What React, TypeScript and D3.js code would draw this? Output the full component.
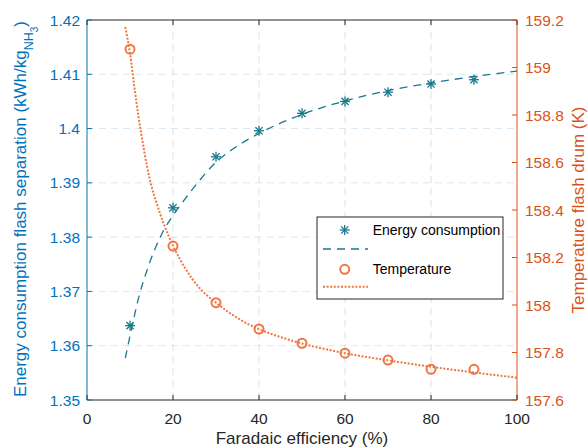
import React from "react";
import * as d3 from "d3";

// Measured points (Faradaic efficiency in %)
const efficiency = [10, 20, 30, 40, 50, 60, 70, 80, 90];
const energy = [1.3637, 1.3854, 1.3948, 1.3996, 1.4028, 1.405, 1.4067, 1.4082, 1.409];
const temperature = [159.077, 158.248, 158.01, 157.899, 157.839, 157.797, 157.768, 157.729, 157.729];

// Fitted trend curves
const energyFitX = [8.9, 10, 12, 14, 16, 18, 20, 22, 25, 30, 35, 40, 50, 60, 70, 80, 90, 100];
const energyFitY = [1.3577, 1.3618, 1.3688, 1.374, 1.3782, 1.3815, 1.384, 1.3862, 1.3893, 1.3938, 1.3968, 1.3991, 1.4026, 1.4051, 1.407, 1.4084, 1.4096, 1.4106];
const tempFitX = [8.9, 10, 11, 12, 13, 14, 15, 16, 18, 20, 23, 26, 30, 35, 40, 45, 50, 60, 70, 80, 90, 100];
const tempFitY = [159.17, 159.06, 158.92, 158.79, 158.68, 158.58, 158.5, 158.44, 158.335, 158.25, 158.15, 158.075, 158.01, 157.945, 157.898, 157.865, 157.838, 157.797, 157.767, 157.74, 157.716, 157.694];

// Axis ticks
const xTicks = [0, 20, 40, 60, 80, 100];
const leftTicks = [1.35, 1.36, 1.37, 1.38, 1.39, 1.4, 1.41, 1.42];
const rightTicks = [157.6, 157.8, 158, 158.2, 158.4, 158.6, 158.8, 159, 159.2];

const W = 588;
const H = 448;
const M = { left: 87, right: 517, top: 20, bottom: 400 };

const BLUE = "#0072BD";
const ORANGE = "#D95319";
const TEAL = "#17798B";
const CORAL = "#EE7743";
const DARK = "#262626";
const FONT = "'Liberation Sans', Arial, Helvetica, sans-serif";

function Star({ cx, cy, r = 5 }: { cx: number; cy: number; r?: number }) {
  const d = r * 0.72;
  return (
    <g stroke={TEAL} strokeWidth={1.3} fill="none">
      <line x1={cx - r} y1={cy} x2={cx + r} y2={cy} />
      <line x1={cx} y1={cy - r} x2={cx} y2={cy + r} />
      <line x1={cx - d} y1={cy - d} x2={cx + d} y2={cy + d} />
      <line x1={cx - d} y1={cy + d} x2={cx + d} y2={cy - d} />
    </g>
  );
}

export default function App() {
  const x = d3.scaleLinear().domain([0, 100]).range([M.left, M.right]);
  const yL = d3.scaleLinear().domain([1.35, 1.42]).range([M.bottom, M.top]);
  const yR = d3.scaleLinear().domain([157.6, 159.2]).range([M.bottom, M.top]);

  const energyLine = d3
    .line<number>()
    .x((_, i) => x(energyFitX[i]))
    .y((v) => yL(v))
    .curve(d3.curveMonotoneX)(energyFitY) as string;
  const tempLine = d3
    .line<number>()
    .x((_, i) => x(tempFitX[i]))
    .y((v) => yR(v))
    .curve(d3.curveMonotoneX)(tempFitY) as string;

  const tick = 5;
  const fmtL = (v: number) => String(+v.toFixed(2));
  const fmtR = (v: number) => String(+v.toFixed(1));

  const lg = { x: 317, y: 217, w: 186, h: 82 };

  return (
    <svg
      width={W}
      height={H}
      style={{ position: "absolute", left: 0, top: 0, background: "#fff" }}
      fontFamily={FONT}
    >
      <rect x={0} y={0} width={W} height={H} fill="#fff" />
      {/* grid */}
      {xTicks.slice(1, -1).map((t) => (
        <line key={"gx" + t} x1={x(t)} x2={x(t)} y1={M.top} y2={M.bottom} stroke="#DEDEDE" strokeWidth={1} strokeDasharray="7 5" />
      ))}
      {leftTicks.slice(1, -1).map((t) => (
        <line key={"gy" + t} x1={M.left} x2={M.right} y1={yL(t)} y2={yL(t)} stroke="#D6E8F5" strokeWidth={1} strokeDasharray="7 5" />
      ))}

      {/* fitted curves */}
      <path d={energyLine} fill="none" stroke={TEAL} strokeWidth={1.3} strokeDasharray="8 6" />
      <path d={tempLine} fill="none" stroke={CORAL} strokeWidth={2} strokeDasharray="2 1.6" />

      {/* markers */}
      {efficiency.map((e, i) => (
        <Star key={"s" + e} cx={x(e)} cy={yL(energy[i])} />
      ))}
      {efficiency.map((e, i) => (
        <circle key={"c" + e} cx={x(e)} cy={yR(temperature[i])} r={4.5} fill="none" stroke={CORAL} strokeWidth={2} />
      ))}

      {/* frame */}
      <line x1={M.left} x2={M.right} y1={M.top} y2={M.top} stroke={DARK} strokeWidth={1} />
      <line x1={M.left} x2={M.right} y1={M.bottom} y2={M.bottom} stroke={DARK} strokeWidth={1} />
      <line x1={M.left} x2={M.left} y1={M.top} y2={M.bottom} stroke={BLUE} strokeWidth={1} />
      <line x1={M.right} x2={M.right} y1={M.top} y2={M.bottom} stroke={ORANGE} strokeWidth={1} />

      {/* x axis */}
      {xTicks.map((t) => (
        <g key={"xt" + t}>
          <line x1={x(t)} x2={x(t)} y1={M.bottom} y2={M.bottom - tick} stroke={DARK} />
          <line x1={x(t)} x2={x(t)} y1={M.top} y2={M.top + tick} stroke={DARK} />
          <text x={x(t)} y={424} textAnchor="middle" fontSize={15.5} fill={DARK}>
            {t}
          </text>
        </g>
      ))}
      <text x={(M.left + M.right) / 2} y={444} textAnchor="middle" fontSize={17} fill={DARK}>
        Faradaic efficiency (%)
      </text>

      {/* left axis */}
      {leftTicks.map((t) => (
        <g key={"lt" + t}>
          <line x1={M.left} x2={M.left + tick} y1={yL(t)} y2={yL(t)} stroke={BLUE} />
          <text x={80} y={yL(t)} dy="0.36em" textAnchor="end" fontSize={15.5} fill={BLUE}>
            {fmtL(t)}
          </text>
        </g>
      ))}
      <text transform={`translate(25.5, 209) rotate(-90)`} textAnchor="middle" fontSize={17} fill={BLUE}>
        Energy consumption flash separation (kWh/kg
        <tspan dy={7} fontSize={12.5}>NH</tspan>
        <tspan dy={5} fontSize={10}>3</tspan>
        <tspan dy={-12} fontSize={17}>)</tspan>
      </text>

      {/* right axis */}
      {rightTicks.map((t) => (
        <g key={"rt" + t}>
          <line x1={M.right} x2={M.right - tick} y1={yR(t)} y2={yR(t)} stroke={ORANGE} />
          <text x={525} y={yR(t)} dy="0.36em" textAnchor="start" fontSize={15.5} fill={ORANGE}>
            {fmtR(t)}
          </text>
        </g>
      ))}
      <text transform={`translate(583.5, 210) rotate(-90)`} textAnchor="middle" fontSize={17} fill={ORANGE}>
        Temperature flash drum (K)
      </text>

      {/* legend */}
      <g>
        <rect x={lg.x} y={lg.y} width={lg.w} height={lg.h} fill="#fff" stroke={DARK} strokeWidth={1} />
        <Star cx={344.7} cy={230} />
        <text x={372.7} y={230} dy="0.36em" fontSize={14} fill="#000">
          Energy consumption
        </text>
        <line x1={323} x2={368} y1={249} y2={249} stroke={TEAL} strokeWidth={1.3} strokeDasharray="8 6" />
        <circle cx={344.7} cy={269.3} r={4.5} fill="none" stroke={CORAL} strokeWidth={2} />
        <text x={372.7} y={269.3} dy="0.36em" fontSize={14} fill="#000">
          Temperature
        </text>
        <line x1={323} x2={368} y1={286.7} y2={286.7} stroke={CORAL} strokeWidth={2} strokeDasharray="2 1.6" />
      </g>
    </svg>
  );
}
